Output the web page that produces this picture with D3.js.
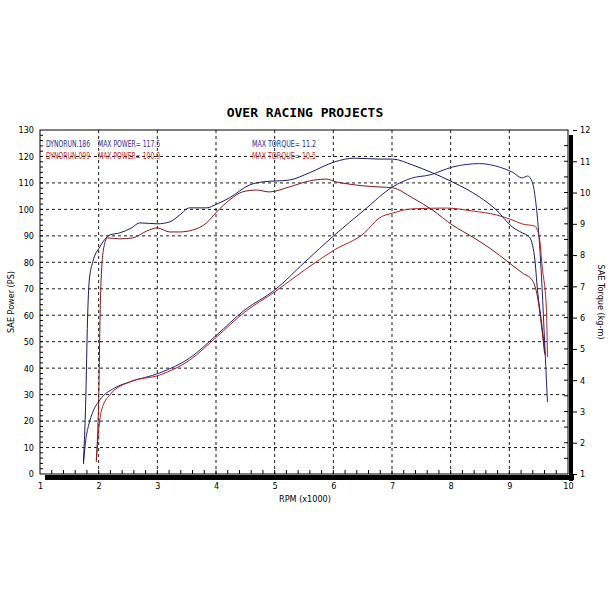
<!DOCTYPE html>
<html><head><meta charset="utf-8">
<script src="https://cdn.jsdelivr.net/npm/d3@7"></script>
<style>body{margin:0;background:#fff}</style>
</head><body><div id="chart"></div>
<script>
// rpm (x1000), PS
const bluePower = [[1.74,3.8],[1.78,12.8],[1.83,18.5],[1.90,23.4],[2.02,28],[2.27,32.5],[2.53,34.8],[3.04,38.2],[3.55,43.8],[4.01,52.5],[4.49,62],[5.0,69.5],[5.51,80],[6.02,90.3],[6.53,99.8],[7.01,108.5],[7.35,111.9],[7.64,113],[8.03,116],[8.49,117.3],[8.83,116],[9.05,114.1],[9.22,111.9],[9.31,112.6],[9.39,110.4],[9.46,100.9],[9.51,88.4],[9.56,69.5],[9.60,50.6],[9.65,27.2]];
const redPower = [[1.96,4.5],[2.0,16.6],[2.05,24.2],[2.19,29.9],[2.53,34.8],[3.04,37.4],[3.55,43],[4.01,51.8],[4.49,61.2],[5.0,68.8],[5.51,77.1],[6.02,84.7],[6.53,91.1],[6.78,96.7],[7.01,98.6],[7.35,100.2],[7.93,100.5],[8.37,99.4],[8.78,97.9],[9.05,96],[9.22,94.5],[9.43,93.7],[9.51,89.6],[9.56,78.2],[9.63,63.1],[9.65,44.2]];
// rpm (x1000), kg-m
const blueTorque = [[1.74,1.38],[1.78,3.37],[1.81,5.92],[1.84,7.2],[1.9,7.78],[2.02,8.26],[2.19,8.64],[2.36,8.71],[2.56,8.87],[2.7,9.03],[3.0,9.0],[3.21,9.06],[3.38,9.28],[3.55,9.51],[3.84,9.51],[4.01,9.63],[4.23,9.83],[4.57,10.24],[4.79,10.34],[5.25,10.4],[5.59,10.63],[6.02,10.98],[6.36,11.1],[6.78,11.07],[7.01,11.07],[7.35,10.88],[7.69,10.63],[8.03,10.34],[8.49,9.86],[8.78,9.44],[9.05,8.9],[9.22,8.71],[9.34,8.58],[9.43,7.94],[9.48,6.88],[9.55,5.83],[9.61,4.81]];
const redTorque = [[1.96,1.45],[2.0,3.37],[2.03,6.56],[2.08,8.16],[2.15,8.55],[2.36,8.52],[2.58,8.55],[2.82,8.77],[3.0,8.87],[3.21,8.74],[3.38,8.74],[3.6,8.8],[3.84,9.03],[4.01,9.38],[4.23,9.76],[4.45,10.02],[4.69,10.08],[4.91,10.02],[5.25,10.18],[5.59,10.37],[5.88,10.43],[6.05,10.34],[6.27,10.27],[6.53,10.21],[6.78,10.18],[7.01,10.15],[7.35,9.83],[7.69,9.44],[8.03,8.96],[8.37,8.58],[8.66,8.23],[9.0,7.75],[9.22,7.43],[9.39,7.2],[9.48,6.66],[9.55,5.7],[9.6,4.87]];
const legend = [
  {run: "DYNORUN.186", power: "MAX POWER= 117.5", torque: "MAX TORQUE= 11.2", color: "#2a2a90"},
  {run: "DYNORUN.099", power: "MAX POWER= 100.9", torque: "MAX TORQUE= 10.5", color: "#c02828"}
];

const W = 610, H = 610;
const m = {left: 40, right: 568, top: 130, bottom: 474};
const font = "'DejaVu Sans Condensed','Liberation Sans Narrow',sans-serif";

const svg = d3.select("#chart").append("svg").attr("width", W).attr("height", H);

const x = d3.scaleLinear().domain([1, 10]).range([m.left, m.right]);
const y = d3.scaleLinear().domain([0, 130]).range([m.bottom, m.top]);
const y2 = d3.scaleLinear().domain([1, 12]).range([m.bottom, m.top]);

// shadow
svg.append("rect").attr("x", m.left + 5).attr("y", m.bottom + 1).attr("width", m.right - m.left + 1).attr("height", 5).attr("fill", "#000");
svg.append("rect").attr("x", m.right + 1).attr("y", m.top + 5).attr("width", 4).attr("height", m.bottom - m.top + 2).attr("fill", "#000");
svg.append("rect").attr("x", m.left).attr("y", m.top).attr("width", m.right - m.left).attr("height", m.bottom - m.top)
  .attr("fill", "#fff").attr("stroke", "#000");

// grid
svg.append("g").selectAll("line").data(d3.range(2, 10)).join("line")
  .attr("x1", d => x(d)).attr("x2", d => x(d)).attr("y1", m.top).attr("y2", m.bottom)
  .attr("stroke", "#000").attr("stroke-width", 0.9).attr("stroke-dasharray", "3,3");
svg.append("g").selectAll("line").data(d3.range(10, 130, 10)).join("line")
  .attr("x1", m.left).attr("x2", m.right).attr("y1", d => y(d)).attr("y2", d => y(d))
  .attr("stroke", "#000").attr("stroke-width", 0.9).attr("stroke-dasharray", "3,3");

// axes
const axStyle = g => {
  g.select(".domain").remove();
  g.selectAll("text").attr("font-family", font).attr("font-size", 9);
};
svg.append("g").attr("transform", `translate(0,${m.bottom})`)
  .call(d3.axisBottom(x).ticks(9).tickSize(0).tickPadding(9).tickFormat(d3.format("d"))).call(axStyle);
svg.append("g").attr("transform", `translate(${m.left},0)`)
  .call(d3.axisLeft(y).tickValues(d3.range(0, 131, 10)).tickSize(0).tickPadding(6)).call(axStyle);
svg.append("g").attr("transform", `translate(${m.right + 5},0)`)
  .call(d3.axisRight(y2).tickValues(d3.range(1, 13)).tickSize(4).tickPadding(3)).call(axStyle);
// minor ticks
svg.append("g").selectAll("line").data(d3.range(1.2, 10, 0.2)).join("line")
  .attr("x1", d => x(d)).attr("x2", d => x(d)).attr("y1", m.bottom).attr("y2", m.bottom - 4).attr("stroke", "#000");
svg.append("g").selectAll("line").data(d3.range(2, 130, 2)).join("line")
  .attr("x1", m.left).attr("x2", m.left + 3).attr("y1", d => y(d)).attr("y2", d => y(d)).attr("stroke", "#000");
svg.append("g").selectAll("line").data(d3.range(1.5, 12, 0.5)).join("line")
  .attr("x1", m.right).attr("x2", m.right - 4).attr("y1", d => y2(d)).attr("y2", d => y2(d)).attr("stroke", "#000");

// curves
const lp = d3.line().x(d => x(d[0])).y(d => y(d[1])).curve(d3.curveMonotoneX);
const lt = d3.line().x(d => x(d[0])).y(d => y2(d[1])).curve(d3.curveMonotoneX);
[[bluePower, lp, "#23237a"], [redPower, lp, "#b02020"], [blueTorque, lt, "#1a1a5a"], [redTorque, lt, "#7a1a1a"]]
  .forEach(([d, gen, c]) => svg.append("path").datum(d).attr("d", gen).attr("fill", "none").attr("stroke", c).attr("stroke-width", 1));

// legend
legend.forEach((l, i) => {
  const ty = 147 + i * 12;
  const t = (tx, s, len) => svg.append("text").attr("x", tx).attr("y", ty).text(s).attr("fill", l.color)
    .attr("font-family", font).attr("font-size", 8).attr("textLength", len).attr("lengthAdjust", "spacingAndGlyphs");
  t(46, l.run, 44);
  t(98, l.power, 62);
  t(252, l.torque, 64);
});

// titles
svg.append("text").attr("x", 305).attr("y", 117).attr("text-anchor", "middle").text("OVER RACING PROJECTS")
  .attr("font-family", "'DejaVu Sans Mono',monospace").attr("font-weight", "bold").attr("font-size", 13);
svg.append("text").attr("x", 305).attr("y", 502).attr("text-anchor", "middle").text("RPM (x1000)")
  .attr("font-family", font).attr("font-size", 9);
svg.append("text").attr("transform", `translate(14,${(m.top + m.bottom) / 2}) rotate(-90)`).attr("text-anchor", "middle")
  .text("SAE Power (PS)").attr("font-family", font).attr("font-size", 9);
svg.append("text").attr("transform", `translate(598,${(m.top + m.bottom) / 2}) rotate(90)`).attr("text-anchor", "middle")
  .text("SAE Torque (kg-m)").attr("font-family", font).attr("font-size", 9);
</script></body></html>
